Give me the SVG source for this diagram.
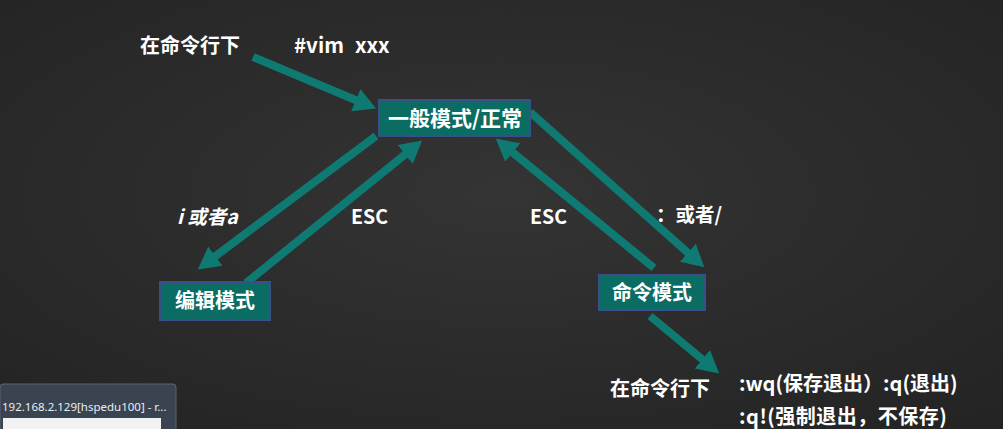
<svg xmlns="http://www.w3.org/2000/svg" width="1003" height="429" viewBox="0 0 1003 429">
<defs>
<radialGradient id="bg" cx="0.5" cy="0.45" r="0.75">
<stop offset="0" stop-color="#343434"/>
<stop offset="1" stop-color="#232323"/>
</radialGradient>
<marker id="ah" markerUnits="userSpaceOnUse" viewBox="0 -13 23 26" refX="1" refY="0" markerWidth="23" markerHeight="26" orient="auto">
<path d="M0,-12 L22,0 L0,12 z" fill="#0e7a71"/>
</marker>
</defs>
<style>
.t{font-family:"Noto Sans CJK SC","Noto Sans",sans-serif;font-weight:bold;fill:#ffffff;}
.box{fill:#0b6c64;stroke:#3a4f8a;stroke-width:2;}
.c line{stroke:#0e7a71;stroke-width:8;marker-end:url(#ah);}
</style>
<rect width="1003" height="429" fill="url(#bg)"/>

<g class="c" id="connectors">
<line x1="253" y1="57" x2="356.7" y2="100.5"/>
<line x1="376" y1="136" x2="214.6" y2="256.8"/>
<line x1="246" y1="283" x2="405.9" y2="153.8"/>
<line x1="654" y1="268" x2="512" y2="151.9"/>
<line x1="530" y1="112" x2="688.6" y2="253.4"/>
<line x1="650" y1="316" x2="703.1" y2="360"/>
</g>

<g id="normal">
<rect class="box" x="379" y="100" width="151" height="36"/>
<text class="t" x="455" y="126" font-size="21" text-anchor="middle">一般模式/正常</text>
</g>
<g id="edit">
<rect class="box" x="160" y="282" width="110" height="38"/>
<text class="t" x="215" y="308" font-size="20" text-anchor="middle">编辑模式</text>
</g>
<g id="command">
<rect class="box" x="599" y="275" width="106" height="35"/>
<text class="t" x="652" y="300" font-size="20" text-anchor="middle">命令模式</text>
</g>

<g id="labels">
<text class="t" x="140" y="53" font-size="20">在命令行下</text>
<text class="t" x="294" y="53" font-size="20.5">#vim</text>
<text class="t" x="355" y="53" font-size="20.5">xxx</text>
<text class="t" x="177" y="224" font-size="19.5" font-style="italic">i 或者a</text>
<text class="t" x="351" y="224" font-size="19.5">ESC</text>
<text class="t" x="530" y="224" font-size="19.5">ESC</text>
<text class="t" x="656" y="222" font-size="19.5">：或者/</text>
<text class="t" x="610" y="396" font-size="20">在命令行下</text>
<text class="t" x="739" y="391" font-size="20">:wq(保存退出）:q(退出)</text>
<text class="t" x="739" y="424" font-size="20" letter-spacing="0.5">:q!(强制退出，不保存)</text>
</g>

<g id="thumbnail">
<rect x="0" y="384" width="176" height="50" rx="3" fill="#3a4350" stroke="#5a6470" stroke-width="1"/>
<text x="2" y="411" font-size="11.5" font-family="'Noto Sans','DejaVu Sans',sans-serif" fill="#e8eef4">192.168.2.129[hspedu100] - r...</text>
<rect x="3" y="418" width="158" height="12" fill="#f2f2f2"/>
</g>
</svg>
